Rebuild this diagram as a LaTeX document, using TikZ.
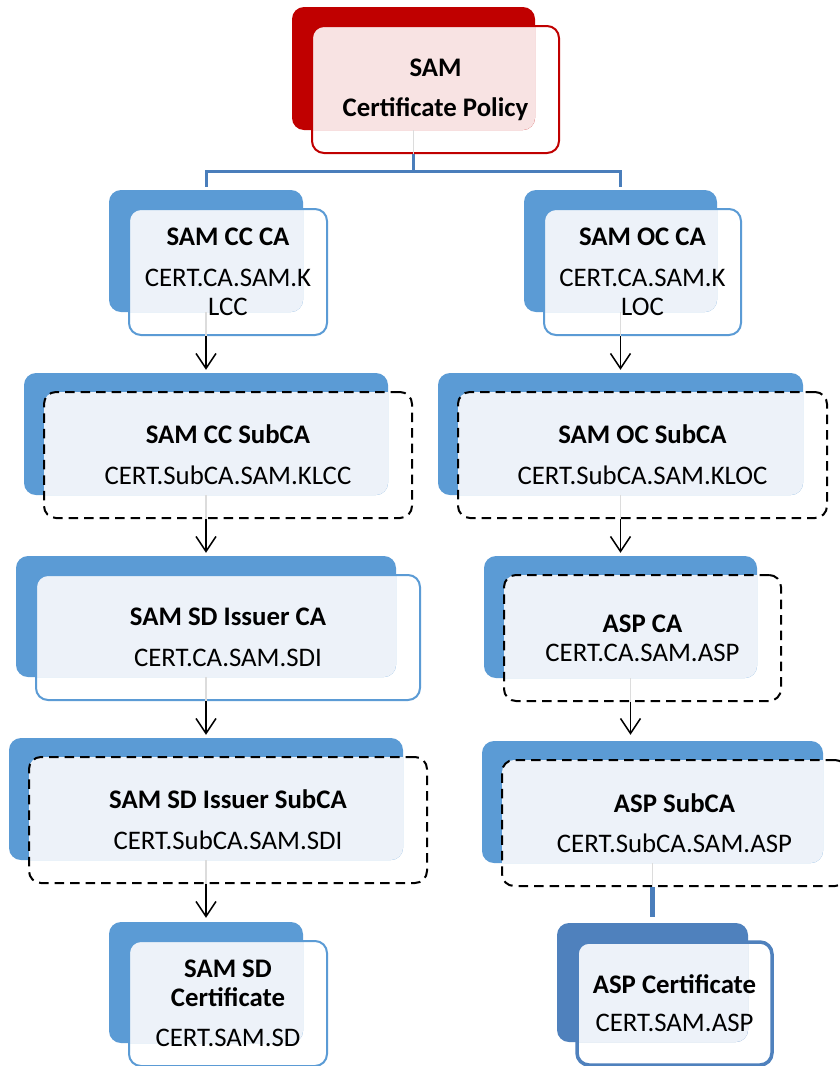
\documentclass[tikz,border=0pt]{standalone}
\usepackage{fontspec}
\setmainfont{Carlito}
\usetikzlibrary{arrows.meta,calc}
\definecolor{boxblue}{HTML}{5B9BD5}
\definecolor{darkblue}{HTML}{4F81BD}
\definecolor{linkblue}{HTML}{4A7EBB}
\definecolor{polred}{HTML}{C00000}
\definecolor{bluetint}{HTML}{EDF2F9}
\definecolor{redtint}{HTML}{F8E3E3}
\definecolor{faintgray}{HTML}{DCDCDC}
\tikzset{
  backbox/.style={inner sep=0pt, rounded corners=12pt},
  front/.style={inner sep=0pt, rounded corners=12pt, align=center,
    font=\fontsize{26.8}{29}\selectfont, text=black},
  solidblue/.style={draw=boxblue, line width=2pt},
  solidred/.style={draw=polred, line width=2pt},
  dashbox/.style={draw=black, line width=2pt, dash pattern=on 9.5pt off 6pt},
  thickblue/.style={draw=darkblue, line width=3.5pt},
  tree/.style={draw=linkblue, line width=3pt},
  arr/.style={draw=black, line width=1.5pt, -{Straight Barb[length=15pt,width=20pt]}},
  stem/.style={draw=linkblue, line width=5pt},
  faint/.style={draw=faintgray, line width=1.5pt},
}
% #1 name, #2 x1, #3 y1, #4 x2, #5 y2 (back box), #6 back colour, #7 tint, #8 front style, #9 text
\newcommand{\cabox}[9]{%
  \node[backbox, fill=#6, minimum width={(#4-#2)*1pt}, minimum height={(#5-#3)*1pt}]
    (#1-b) at ({(#2+#4)/2},{(#3+#5)/2}) {};
  \begin{scope}
    \clip[rounded corners=12pt] (#2,#3) rectangle (#4,#5);
    \fill[#7, rounded corners=12pt] ({#2+20},{#3+19}) rectangle ({#4+24},{#5+23});
  \end{scope}
  \node[front, #8, minimum width={(#4-#2+4)*1pt}, minimum height={(#5-#3+4)*1pt}]
    (#1) at ({(#2+#4)/2+22},{(#3+#5)/2+21}) {#9};
}
\begin{document}
\begin{tikzpicture}[x=1pt,y=-1pt]
\useasboundingbox (0,0) rectangle (840,1066);
\fill[white] (0,0) rectangle (840,1066);

\cabox{policy}{292}{7}{535}{130}{polred}{redtint}{solidred}{\textbf{SAM}\\[11pt]\textbf{Certificate Policy}}

\cabox{ccca}{109}{190}{303}{312}{boxblue}{bluetint}{solidblue}{\textbf{SAM CC CA}\\[12pt]CERT.CA.SAM.K\\LCC}
\cabox{occa}{524}{190}{717}{312}{boxblue}{bluetint}{solidblue}{\textbf{SAM OC CA}\\[12pt]CERT.CA.SAM.K\\LOC}

\cabox{ccsub}{24}{373}{388}{495}{boxblue}{bluetint}{dashbox}{\textbf{SAM CC SubCA}\\[12pt]CERT.SubCA.SAM.KLCC}
\cabox{ocsub}{438}{373}{803}{495}{boxblue}{bluetint}{dashbox}{\textbf{SAM OC SubCA}\\[12pt]CERT.SubCA.SAM.KLOC}

\cabox{sdica}{16}{556}{396}{677}{boxblue}{bluetint}{solidblue}{\textbf{SAM SD Issuer CA}\\[12pt]CERT.CA.SAM.SDI}
\cabox{aspca}{484}{556}{757}{678}{boxblue}{bluetint}{dashbox}{\textbf{ASP CA}\\CERT.CA.SAM.ASP}

\cabox{sdisub}{9}{738}{403}{860}{boxblue}{bluetint}{dashbox}{\textbf{SAM SD Issuer SubCA}\\[12pt]CERT.SubCA.SAM.SDI}
\cabox{aspsub}{482}{741}{823}{863}{boxblue}{bluetint}{dashbox}{\textbf{ASP SubCA}\\[11pt]CERT.SubCA.SAM.ASP}

\cabox{sdcert}{109}{922}{303}{1043}{boxblue}{bluetint}{solidblue}{\textbf{SAM SD}\\\textbf{Certificate}\\[11pt]CERT.SAM.SD}
\cabox{aspcert}{557}{923}{748}{1042}{darkblue}{bluetint}{thickblue}{\textbf{ASP Certificate}\\[9pt]CERT.SAM.ASP}

% faint connector parts seen through the front boxes
\draw[faint] (policy-b.south) -- (policy.south -| policy-b.south);
\draw[faint] (ccca-b.south) -- (ccca.south -| ccca-b.south);
\draw[faint] (occa-b.south) -- (occa.south -| occa-b.south);
\draw[faint] (ccsub-b.south) -- (ccsub.south -| ccsub-b.south);
\draw[faint] (ocsub-b.south) -- (ocsub.south -| ocsub-b.south);
\draw[faint] (sdica-b.south) -- (sdica.south -| sdica-b.south);
\draw[faint] (sdisub-b.south) -- (sdisub.south -| sdisub-b.south);
\draw[faint] (aspsub-b.south) -- (aspsub.south -| aspsub-b.south);

% connectors
\coordinate (junc) at (413,171);
\draw[tree] (policy.south -| policy-b.south) -- (policy-b.south |- junc);
\draw[tree] ([yshift=3pt]ccca-b.north) |- (junc) -| ([yshift=3pt]occa-b.north);

\draw[arr] (ccca.south -| ccca-b.south) -- ([yshift=3pt]ccsub-b.north);
\draw[arr] (ccsub.south -| ccsub-b.south) -- ([yshift=3pt]sdica-b.north);
\draw[arr] (sdica.south -| sdica-b.south) -- ([yshift=3pt]sdisub-b.north);
\draw[arr] (sdisub.south -| sdisub-b.south) -- ([yshift=4pt]sdcert-b.north);

\draw[arr] (occa.south -| occa-b.south) -- ([yshift=3pt]ocsub-b.north);
\draw[arr] (ocsub.south -| ocsub-b.south) -- ([yshift=3pt]aspca-b.north);
\coordinate (aspx) at ($(aspca-b.south)+(10,0)$);
\draw[faint] (aspca-b.south -| aspx) -- (aspca.south -| aspx);
\draw[arr] (aspca.south -| aspx) -- ($(aspsub-b.north -| aspx)+(0,-6)$);
\draw[stem] (aspsub.south -| aspsub-b.south) -- ($(aspcert-b.north)+(0,-6)$);
\end{tikzpicture}
\end{document}
